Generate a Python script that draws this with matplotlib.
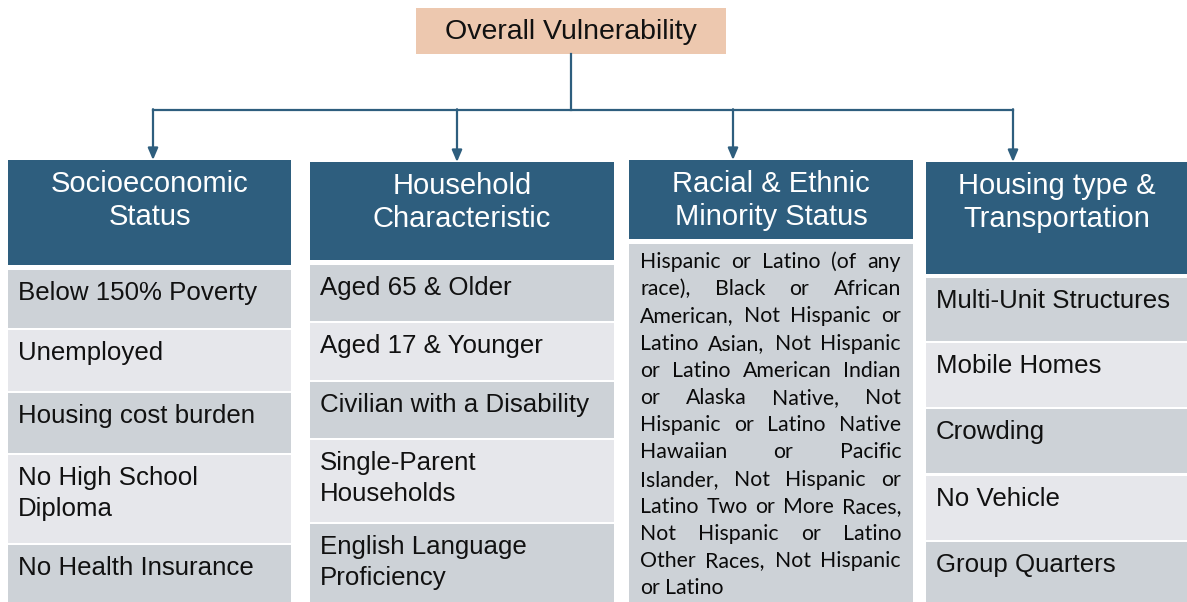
import matplotlib
matplotlib.use("Agg")
import matplotlib.pyplot as plt
from matplotlib.patches import Rectangle

# ---- content ----
top_title = "Overall Vulnerability"
headers = [["Socioeconomic", "Status"],
           ["Household", "Characteristic"],
           ["Racial & Ethnic", "Minority Status"],
           ["Housing type &", "Transportation"]]
socio_items = [["Below 150% Poverty"], ["Unemployed"], ["Housing cost burden"],
               ["No High School", "Diploma"], ["No Health Insurance"]]
household_items = [["Aged 65 & Older"], ["Aged 17 & Younger"], ["Civilian with a Disability"],
                   ["Single-Parent", "Households"], ["English Language", "Proficiency"]]
racial_lines = ["Hispanic or Latino (of any",
                "race), Black or African",
                "American, Not Hispanic or",
                "Latino Asian, Not Hispanic",
                "or Latino American Indian",
                "or Alaska Native, Not",
                "Hispanic or Latino Native",
                "Hawaiian or Pacific",
                "Islander, Not Hispanic or",
                "Latino Two or More Races,",
                "Not Hispanic or Latino",
                "Other Races, Not Hispanic",
                "or Latino"]
housing_items = [["Multi-Unit Structures"], ["Mobile Homes"], ["Crowding"],
                 ["No Vehicle"], ["Group Quarters"]]
column_items = [socio_items, household_items, None, housing_items]

# ---- layout (pixel units) ----
W, H = 1187, 602
BLUE = "#2E5E7E"
PEACH = "#EDC8AF"
DARK = "#CDD2D7"
LIGHT = "#E6E7EB"

top_box = (416, 8, 726, 54)
col_x = [(8, 291), (310, 614), (629, 913), (926, 1187)]
head_y = [(160, 265), (162, 260), (160, 239), (162, 274)]
arrow_x = [153, 457, 733, 1013]
bar_y = 110
item_y = [[(270, 328), (330, 391), (393, 453), (455, 543), (545, 602)],
          [(265, 321), (323, 380), (382, 438), (440, 522), (524, 602)],
          [(244, 602)],
          [(278, 341), (343, 407), (409, 473), (476, 540), (542, 602)]]

fig = plt.figure(figsize=(W / 100, H / 100), dpi=100)
ax = fig.add_axes([0, 0, 1, 1])
ax.set_xlim(0, W)
ax.set_ylim(H, 0)
ax.axis("off")

def box(x0, y0, x1, y1, color):
    ax.add_patch(Rectangle((x0, y0), x1 - x0, y1 - y0, facecolor=color,
                           edgecolor="none", zorder=1))

# top box
box(*top_box, PEACH)
ax.text((top_box[0] + top_box[2]) / 2, (top_box[1] + top_box[3]) / 2 + 1, top_title,
        ha="center", va="center", fontsize=20.5, family="Liberation Sans", color="#111111")

# connectors
cx = (top_box[0] + top_box[2]) / 2
ax.plot([cx, cx], [top_box[3], bar_y], color=BLUE, lw=1.6, zorder=2)
ax.plot([arrow_x[0], arrow_x[-1]], [bar_y, bar_y], color=BLUE, lw=1.6, zorder=2)
for i, xa in enumerate(arrow_x):
    ax.annotate("", xy=(xa, head_y[i][0]), xytext=(xa, bar_y - 0.8),
                arrowprops=dict(arrowstyle="-|>,head_length=0.7,head_width=0.3",
                                color=BLUE, lw=1.6, mutation_scale=10,
                                shrinkA=0, shrinkB=0), zorder=2)

# headers
for i, (x0, x1) in enumerate(col_x):
    y0, y1 = head_y[i]
    box(x0, y0, x1, y1, BLUE)
    for k, line in enumerate(headers[i]):
        ax.text((x0 + x1) / 2, y0 + 24 + 33 * k, line, ha="center", va="center",
                fontsize=21, family="Liberation Sans", color="white", zorder=3)

# list items
for i, items in enumerate(column_items):
    if items is None:
        continue
    x0, x1 = col_x[i]
    for j, lines in enumerate(items):
        y0, y1 = item_y[i][j]
        box(x0, y0, x1, y1, DARK if j % 2 == 0 else LIGHT)
        for k, line in enumerate(lines):
            ax.text(x0 + 10, y0 + 23 + 31 * k, line, ha="left", va="center",
                    fontsize=18.6, family="Liberation Sans", color="#111111", zorder=3)

# racial column: justified paragraph
x0, x1 = col_x[2]
y0, y1 = item_y[2][0]
box(x0, y0, x1, y1, DARK)
fig.canvas.draw()
renderer = fig.canvas.get_renderer()
left, right = 640, 901
for n, line in enumerate(racial_lines):
    yy = 262 + 27.2 * n
    words = line.split(" ")
    texts = [ax.text(0, yy, w, ha="left", va="center", fontsize=15.3,
                     family="Lato", color="#0A0A0A", zorder=3) for w in words]
    widths = [t.get_window_extent(renderer).width for t in texts]
    if n == len(racial_lines) - 1 or len(words) == 1:
        gap = 5
    else:
        gap = max(3, (right - left - sum(widths)) / (len(words) - 1))
    xpos = left
    for t, w in zip(texts, widths):
        t.set_x(xpos)
        xpos += w + gap

fig.savefig("out.png", dpi=100)
